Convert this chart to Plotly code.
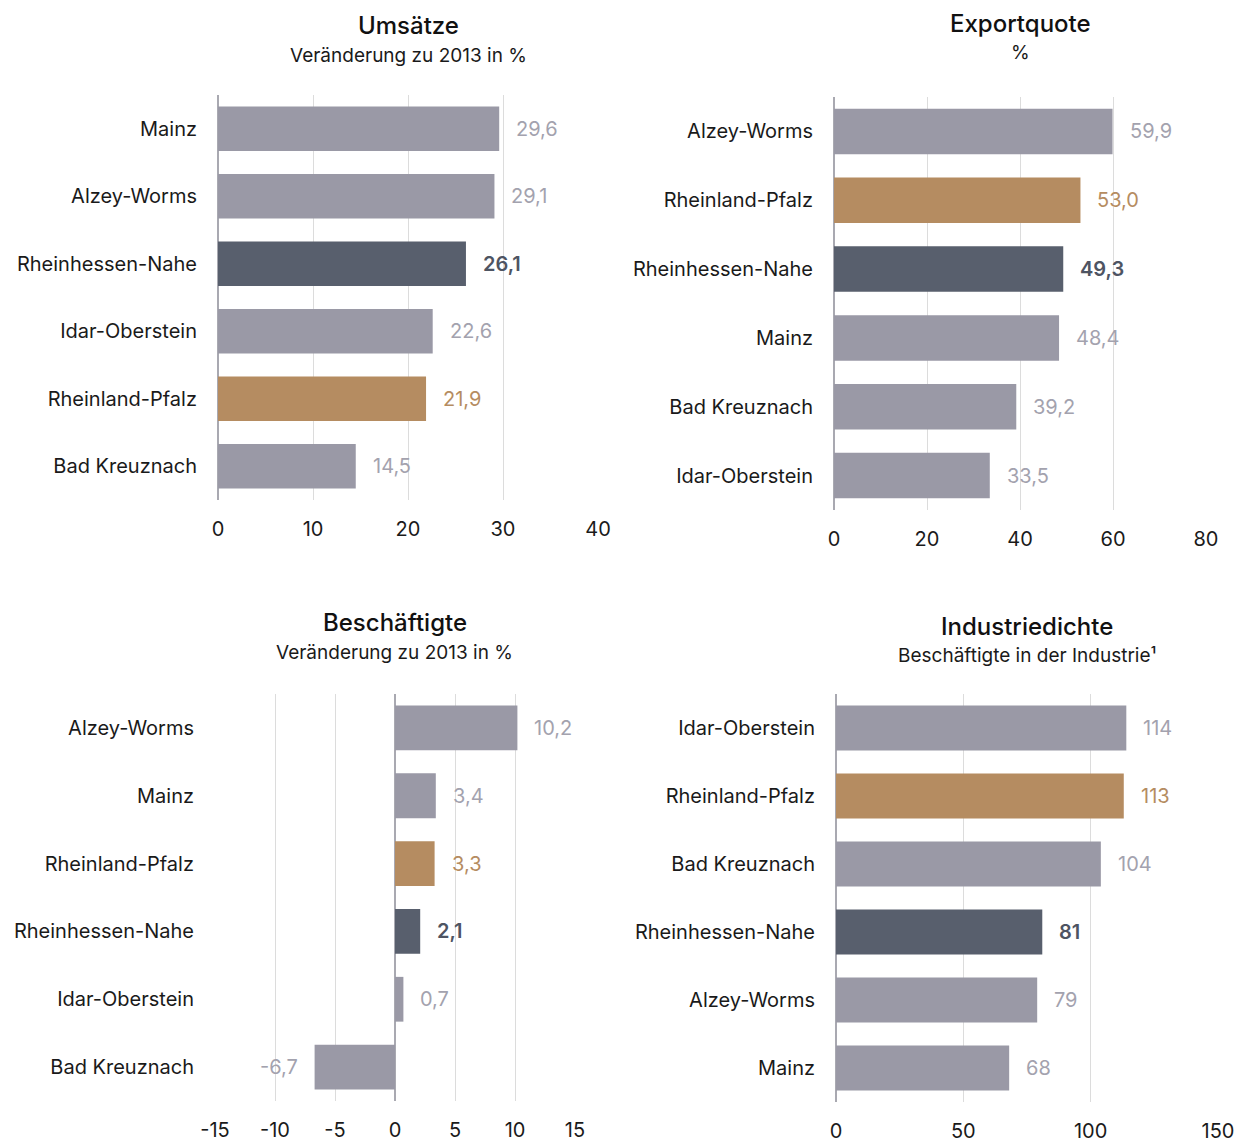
import plotly.graph_objects as go

# ---- data ----
umsatz_regions = ["Mainz", "Alzey-Worms", "Rheinhessen-Nahe", "Idar-Oberstein", "Rheinland-Pfalz", "Bad Kreuznach"]
umsatz_values = [29.6, 29.1, 26.1, 22.6, 21.9, 14.5]
umsatz_ticks = [0, 10, 20, 30, 40]

export_regions = ["Alzey-Worms", "Rheinland-Pfalz", "Rheinhessen-Nahe", "Mainz", "Bad Kreuznach", "Idar-Oberstein"]
export_values = [59.9, 53.0, 49.3, 48.4, 39.2, 33.5]
export_ticks = [0, 20, 40, 60, 80]

besch_regions = ["Alzey-Worms", "Mainz", "Rheinland-Pfalz", "Rheinhessen-Nahe", "Idar-Oberstein", "Bad Kreuznach"]
besch_values = [10.2, 3.4, 3.3, 2.1, 0.7, -6.7]
besch_ticks = [-15, -10, -5, 0, 5, 10, 15]

dichte_regions = ["Idar-Oberstein", "Rheinland-Pfalz", "Bad Kreuznach", "Rheinhessen-Nahe", "Alzey-Worms", "Mainz"]
dichte_values = [114, 113, 104, 81, 79, 68]
dichte_ticks = [0, 50, 100, 150]

titles = ["Umsätze", "Exportquote", "Beschäftigte", "Industriedichte"]
subtitles = ["Veränderung zu 2013 in %", "%", "Veränderung zu 2013 in %", "Beschäftigte in der Industrie¹"]

# ---- styling ----
W, H = 1246, 1142
FONT = "Inter"
GREY, DARK, GOLD = "#9a99a6", "#585f6d", "#b58c61"
GREY_TXT, DARK_TXT, GOLD_TXT = "#a3a2ae", "#4e5462", "#b58c61"
HIGHLIGHT = {"Rheinhessen-Nahe": (DARK, DARK_TXT, 600), "Rheinland-Pfalz": (GOLD, GOLD_TXT, 400)}


def style(region):
    return HIGHLIGHT.get(region, (GREY, GREY_TXT, 400))


def fmt(v, decimals):
    return f"{v:.{decimals}f}".replace(".", ",")


# panel boxes in pixels: left, right, top, bottom
panels = [
    dict(regions=umsatz_regions, values=umsatz_values, ticks=umsatz_ticks, box=(218, 598, 95, 500), dec=1),
    dict(regions=export_regions, values=export_values, ticks=export_ticks, box=(834, 1206, 97, 510), dec=1),
    dict(regions=besch_regions, values=besch_values, ticks=besch_ticks, box=(215, 575, 694, 1101), dec=1),
    dict(regions=dichte_regions, values=dichte_values, ticks=dichte_ticks, box=(836, 1218, 694, 1102), dec=0),
]
title_y = [(25, 55), (24, 53), (622, 652), (626, 655)]

fig = go.Figure()
annotations = []

for i, p in enumerate(panels):
    n = str(i + 1) if i else ""
    xa, ya = "x" + n, "y" + n
    l, r, t, b = p["box"]
    colors = [style(g)[0] for g in p["regions"]]
    fig.add_trace(go.Bar(
        x=p["values"], y=p["regions"], orientation="h",
        marker=dict(color=colors, line=dict(width=0)),
        width=0.66, xaxis=xa, yaxis=ya, showlegend=False, hoverinfo="skip",
    ))
    for g, v in zip(p["regions"], p["values"]):
        _, tc, wt = style(g)
        annotations.append(dict(
            x=v, y=g, xref=xa, yref=ya, text=fmt(v, p["dec"]), showarrow=False,
            xanchor="left" if v >= 0 else "right", xshift=15 if v >= 0 else -15,
            font=dict(family=FONT, size=20, color=tc, weight=wt),
        ))
    ticks = p["ticks"]
    fig.layout["xaxis" + n] = dict(
        domain=[l / W, r / W], range=[ticks[0], ticks[-1]],
        tickmode="array", tickvals=ticks, ticktext=[str(v) for v in ticks],
        showgrid=True, gridcolor="#dcdcdc", gridwidth=1,
        zeroline=True, zerolinecolor="#a9a9b1", zerolinewidth=2,
        showline=False, ticks="", ticklabelstandoff=15, automargin=False,
        tickfont=dict(family=FONT, size=20, color="#1a1a1a"),
        anchor=ya, fixedrange=True,
    )
    fig.layout["yaxis" + n] = dict(
        domain=[1 - b / H, 1 - t / H], type="category",
        range=[len(p["regions"]) - 0.5, -0.5],
        showgrid=False, zeroline=False, showline=False, ticks="",
        ticklabelstandoff=20, automargin=False,
        tickfont=dict(family=FONT, size=20, color="#1a1a1a"),
        anchor=xa, fixedrange=True,
    )
    cx = (l + r) / 2 / W
    ty, sy = title_y[i]
    annotations.append(dict(
        x=cx, y=1 - ty / H, xref="paper", yref="paper", text=titles[i], showarrow=False,
        xanchor="center", yanchor="middle",
        font=dict(family=FONT, size=24, color="#111111", weight=500),
    ))
    annotations.append(dict(
        x=cx, y=1 - sy / H, xref="paper", yref="paper", text=subtitles[i], showarrow=False,
        xanchor="center", yanchor="middle",
        font=dict(family=FONT, size=19, color="#1a1a1a"),
    ))

fig.update_layout(
    width=W, height=H, margin=dict(l=0, r=0, t=0, b=0),
    paper_bgcolor="white", plot_bgcolor="white",
    annotations=annotations,
)

fig.write_html("out.html")
